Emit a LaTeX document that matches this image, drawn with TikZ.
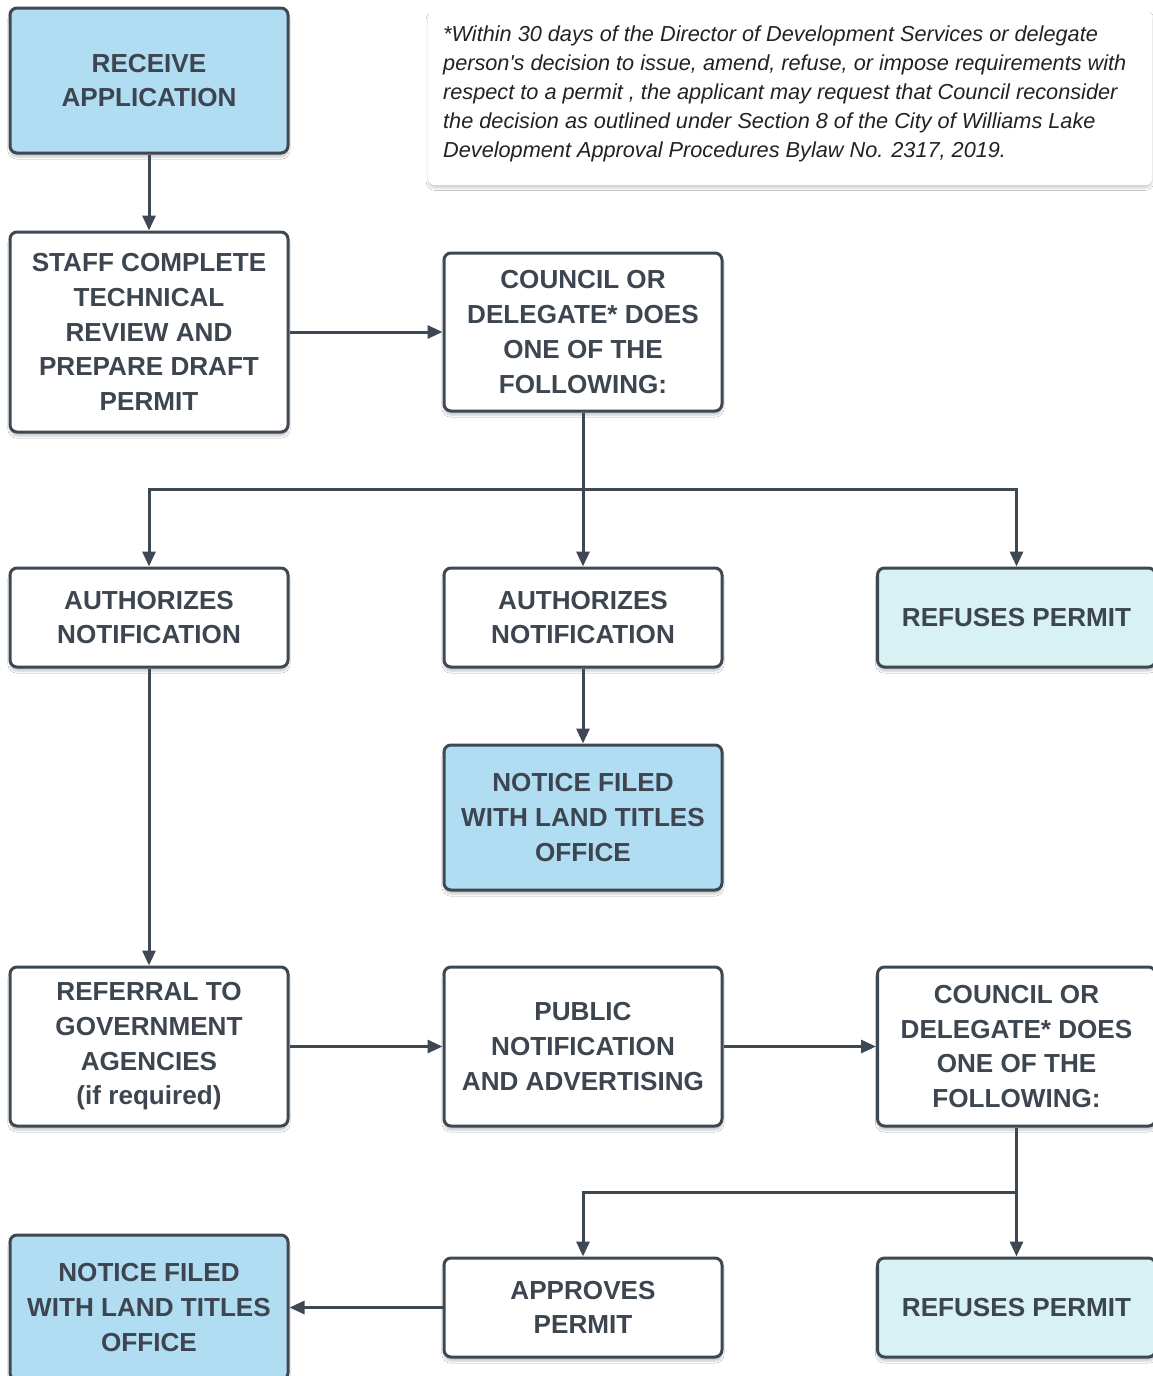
\documentclass[tikz,border=0pt]{standalone}
\usepackage{fontspec}
\setmainfont{Liberation Sans}
\usetikzlibrary{arrows.meta,shadows,shadows.blur}
\definecolor{edgec}{HTML}{3E4853}
\definecolor{bluef}{HTML}{B1DDF3}
\definecolor{tealf}{HTML}{D8F1F2}
\definecolor{txtc}{HTML}{3D4650}
\definecolor{notec}{HTML}{222222}
\begin{document}
\begin{tikzpicture}[x=1pt,y=-1pt,
  box/.style={draw=edgec, line width=3pt, rounded corners=7pt, fill=white,
    minimum width=278pt, align=center, text=txtc, inner sep=0pt,
    font=\fontsize{26.1}{34.7}\selectfont\bfseries,
    blur shadow={shadow blur steps=6, shadow xshift=0pt, shadow yshift=-4pt, shadow opacity=22}},
  bluebox/.style={box, fill=bluef},
  tealbox/.style={box, fill=tealf},
  conn/.style={draw=edgec, line width=3pt, -{Triangle[length=15pt,width=13pt]}},
  plain/.style={draw=edgec, line width=3pt},
  notebox/.style={fill=white, rounded corners=7pt, inner sep=0pt,
    blur shadow={shadow blur steps=6, shadow xshift=0pt, shadow yshift=-3pt, shadow opacity=18}},
  noteline/.style={anchor=base west, text=notec, inner sep=0pt,
    font=\itshape\fontsize{21.7}{29}\selectfont}
]
\clip (0,0) rectangle (1153,1376);
\fill[white] (0,0) rectangle (1153,1376);

% note
\node[notebox, minimum width=724pt, minimum height=175pt, anchor=north west] (notebg) at (428,10) {};
\node[noteline] (n1) at (443,41) {*Within 30 days of the Director of Development Services or delegate};
\node[noteline] (n2) at (443,70) {person\textquotesingle s decision to issue, amend, refuse, or impose requirements with};
\node[noteline] (n3) at (443,99) {respect to a permit , the applicant may request that Council reconsider};
\node[noteline] (n4) at (443,128) {the decision as outlined under Section 8 of the City of Williams Lake};
\node[noteline] (n5) at (443,157) {Development Approval Procedures Bylaw No. 2317, 2019.};

% boxes
\node[bluebox, minimum height=145pt] (receive) at (149,80.5) {RECEIVE\\APPLICATION};
\node[box, minimum height=200pt] (staff) at (149,332) {STAFF COMPLETE\\TECHNICAL\\REVIEW AND\\PREPARE DRAFT\\PERMIT};
\node[box, minimum height=158pt] (council1) at (583,332) {COUNCIL OR\\DELEGATE* DOES\\ONE OF THE\\FOLLOWING:};
\node[box, minimum height=99pt] (authL) at (149,617.5) {AUTHORIZES\\NOTIFICATION};
\node[box, minimum height=99pt] (authM) at (583,617.5) {AUTHORIZES\\NOTIFICATION};
\node[tealbox, minimum height=99pt] (refuse1) at (1016.5,617.5) {REFUSES PERMIT};
\node[bluebox, minimum height=145pt] (noticeM) at (583,817.5) {NOTICE FILED\\WITH LAND TITLES\\OFFICE};
\node[box, minimum height=159pt] (referral) at (149,1046.5) {REFERRAL TO\\GOVERNMENT\\AGENCIES\\(if required)};
\node[box, minimum height=159pt] (public) at (583,1046.5) {PUBLIC\\NOTIFICATION\\AND ADVERTISING};
\node[box, minimum height=159pt] (council2) at (1016.5,1046.5) {COUNCIL OR\\DELEGATE* DOES\\ONE OF THE\\FOLLOWING:};
\node[bluebox, minimum height=145pt] (noticeB) at (149,1307.5) {NOTICE FILED\\WITH LAND TITLES\\OFFICE};
\node[box, minimum height=99pt] (approve) at (583,1307.5) {APPROVES\\PERMIT};
\node[tealbox, minimum height=99pt] (refuse2) at (1016.5,1307.5) {REFUSES PERMIT};

% connectors
\coordinate (j1) at (583,489);
\coordinate (j2) at (1016.5,1192);
\draw[conn] (receive) -- (staff);
\draw[conn] (staff) -- (council1);
\draw[plain] (council1) -- (j1);
\draw[conn] (j1) -- (authM);
\draw[conn] (j1) -| (authL);
\draw[conn] (j1) -| (refuse1);
\draw[conn] (authM) -- (noticeM);
\draw[conn] (authL) -- (referral);
\draw[conn] (referral) -- (public);
\draw[conn] (public) -- (council2);
\draw[conn] (council2) -- (refuse2);
\draw[conn] (j2) -| (approve);
\draw[conn] (approve) -- (noticeB);
\end{tikzpicture}
\end{document}
